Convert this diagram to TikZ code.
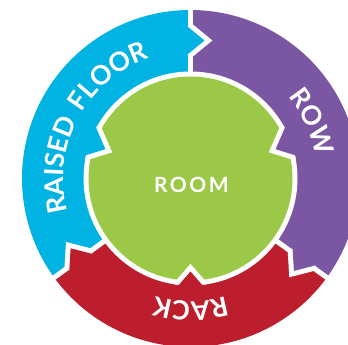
\documentclass[tikz,border=0pt]{standalone}
\usepackage{fontspec}
\setmainfont{Lato}
\usetikzlibrary{calc,decorations.text}
\definecolor{ringblue}{HTML}{00B3E3}
\definecolor{ringpurple}{HTML}{7B57A3}
\definecolor{ringred}{HTML}{BD1E2D}
\definecolor{roomgreen}{HTML}{9BC947}
\newfontfamily\labelfont[LetterSpace=12]{Lato}
\newcommand\ringfont{\labelfont\bfseries\fontsize{26.5}{30}\selectfont}
\newcommand\roomfont{\labelfont\bfseries\fontsize{21}{24}\selectfont}
\tikzset{
  gap/.style={white, line width=5pt},
  headgap/.style={white, line width=10pt, line join=miter},
  ringlabel/.style={decorate, decoration={text along path, text align=center,
                    text color=white}},
}

\begin{document}
\begin{tikzpicture}[x=1pt,y=1pt]
  \def\Rout{168.5}
  \def\Rin{107}
  \def\Rg{102}
  \useasboundingbox (-190.5,-166.5) rectangle (157.5,178.5);
  % ring segments
  \foreach \a/\b/\col in {90/216/ringblue, -36/90/ringpurple, 216/324/ringred} {
    \fill[\col] (0,0) -- (\a:\Rout) arc[start angle=\a, end angle=\b, radius=\Rout] -- cycle;
  }
  \foreach \t in {90,216,-36} { \draw[gap] (\t:\Rin-5) -- (\t:\Rout+5); }
  % arrow heads (clockwise)
  \foreach \t/\col in {90/ringblue, -36/ringpurple, 216/ringred} {
    \coordinate (hA) at ($(\t:124)+(\t+90:3)$);
    \coordinate (hT) at ($(\t:138)+(\t-90:14)$);
    \coordinate (hB) at ($(\t:152)+(\t+90:3)$);
    \draw[headgap] (hA) -- (hT) -- (hB);
    \fill[\col] ($(\t:124)+(\t+90:9)$) -- (hA) -- (hT) -- (hB) -- ($(\t:152)+(\t+90:9)$) -- cycle;
  }
  % room
  \fill[white] (0,0) circle (\Rin);
  \fill[roomgreen] (0,0) circle (\Rg);
  % notches into the room
  \foreach \p/\q/\s/\r/\col in {151/168/161/90/ringblue, 12/29/19/90/ringpurple, 263/277/270/93/ringred} {
    \begin{scope}
      \clip (0,0) circle (\Rin);
      \draw[headgap] (\p:\Rin+2) -- (\s:\r) -- (\q:\Rin+2);
    \end{scope}
    \fill[\col] (\p:\Rin+2) -- (\s:\r) -- (\q:\Rin+2) -- (\q:\Rin+8) -- (\p:\Rin+8) -- cycle;
  }
  \node[font=\roomfont, text=white, inner sep=0pt] (room) at (1,-6.5) {ROOM};
  % labels along the ring
  \path[ringlabel, decoration={text={|\ringfont|RAISED FLOOR}}]
    (220:127) arc[start angle=220, end angle=84, radius=127];
  \path[ringlabel, decoration={text={|\ringfont|ROW}}]
    (78:127) arc[start angle=78, end angle=-28, radius=127];
  \path[ringlabel, decoration={text={|\ringfont|RACK}}]
    (322:123) arc[start angle=322, end angle=218, radius=123];
\end{tikzpicture}
\end{document}
